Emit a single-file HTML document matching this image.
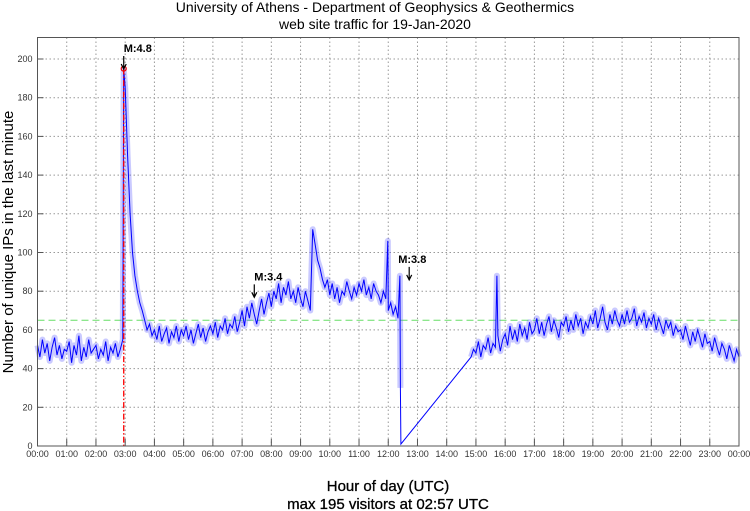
<!DOCTYPE html>
<html><head><meta charset="utf-8">
<style>
body{margin:0;background:#fff;}
svg{display:block;font-family:"Liberation Sans",sans-serif;}
</style></head>
<body>
<svg id="chart" width="750" height="511" viewBox="0 0 750 511">
<text x="375" y="12" text-anchor="middle" font-size="14">University of Athens - Department of Geophysics &amp; Geothermics</text>
<text x="375" y="29" text-anchor="middle" font-size="14">web site traffic for 19-Jan-2020</text>
<text transform="translate(13,242) rotate(-90)" text-anchor="middle" font-size="15">Number of unique IPs in the last minute</text>
<text x="388" y="491" text-anchor="middle" font-size="15" stroke="#000" stroke-width="0.3">Hour of day (UTC)</text>
<text x="388" y="509" text-anchor="middle" font-size="15" stroke="#000" stroke-width="0.3">max 195 visitors at 02:57 UTC</text>
<g id="grid"></g>
<g id="series"></g>
<g id="annot"></g>
<rect x="37.5" y="37.5" width="701.5" height="408.5" fill="none" stroke="#555" stroke-width="1"/>
</svg>
<script>
const yTicks=[0,20,40,60,80,100,120,140,160,180,200];
const xTickLabels=["00:00","01:00","02:00","03:00","04:00","05:00","06:00","07:00","08:00","09:00","10:00","11:00","12:00","13:00","14:00","15:00","16:00","17:00","18:00","19:00","20:00","21:00","22:00","23:00","00:00"];
const times=[0,5,10,15,20,25,30,35,40,45,50,55,
60,65,70,75,80,85,90,95,100,105,110,115,
120,125,130,135,140,145,150,155,160,165,170,175,177,
180,185,190,195,200,205,210,215,220,225,230,235,
240,245,250,255,260,265,270,275,280,285,290,295,
300,305,310,315,320,325,330,335,340,345,350,355,
360,365,370,375,380,385,390,395,400,405,410,415,
420,425,430,435,440,445,450,455,460,465,470,475,
480,485,490,495,500,505,510,515,520,525,530,535,
540,545,550,555,560,565,570,575,580,585,590,595,
600,605,610,615,620,625,630,635,640,645,650,655,
660,665,670,675,680,685,690,695,700,705,710,715,719,
720,725,730,735,740,744,745,746,
890,895,
900,905,910,915,920,925,930,935,940,943,945,950,955,
960,965,970,975,980,985,990,995,1000,1005,1010,1015,
1020,1025,1030,1035,1040,1045,1050,1055,1060,1065,1070,1075,
1080,1085,1090,1095,1100,1105,1110,1115,1120,1125,1130,1135,
1140,1145,1150,1155,1160,1165,1170,1175,1180,1185,1190,1195,
1200,1205,1210,1215,1220,1225,1230,1235,1240,1245,1250,1255,
1260,1265,1270,1275,1280,1285,1290,1295,1300,1305,1310,1315,
1320,1325,1330,1335,1340,1345,1350,1355,1360,1365,1370,1375,
1380,1385,1390,1395,1400,1405,1410,1415,1420,1425,1430,1435,1440];
const visitors=[52,46,55,48,53,44,51,56,47,52,45,50,
49,54,43,52,47,57,44,51,46,55,48,50,
52,45,50,47,54,44,51,48,53,46,50,55,195,
185,150,120,100,88,80,74,70,65,60,63,57,
60,55,62,54,58,61,53,59,56,62,54,60,
57,62,55,60,53,58,63,56,61,54,59,62,
58,64,56,62,60,66,58,63,61,67,59,64,
70,62,72,66,74,68,63,70,76,68,74,79,
72,80,76,84,74,82,78,85,76,80,74,82,
76,72,80,75,70,112,104,96,92,86,82,86,
78,84,76,82,74,80,78,85,80,76,82,78,
84,80,86,78,82,76,84,80,78,74,80,76,106,
70,74,68,72,66,88,30,1,
46,50,
48,54,46,52,50,56,48,53,51,88,57,49,55,
58,52,62,55,60,54,63,57,61,55,64,58,
60,66,58,64,57,63,67,59,65,61,56,64,
62,67,59,65,60,68,62,66,58,64,61,67,
63,70,61,66,72,64,60,68,63,70,65,62,
68,63,70,64,66,71,62,67,64,69,61,66,
63,68,60,66,62,58,65,61,64,57,62,59,
60,55,62,57,52,59,54,60,56,51,58,53,
54,49,56,51,47,53,50,45,52,48,44,50,46];
const meanLevel=[65];
const quakeLabels=["M:4.8","M:3.4","M:3.8"];
const quakeTimes=[177,445,763];
const quakeLabelY=[200,82,91];

const X0=37.5,X1=739,Y0=446,PXY=1.935;
const xs=t=>X0+(X1-X0)*t/1440;
const ys=v=>Y0-v*PXY;
const NS="http://www.w3.org/2000/svg";
function mk(tag,attrs,parent){const e=document.createElementNS(NS,tag);for(const k in attrs)e.setAttribute(k,attrs[k]);parent.appendChild(e);return e;}
const grid=document.getElementById('grid'),ser=document.getElementById('series'),an=document.getElementById('annot');

yTicks.forEach((v,i)=>{
  const y=ys(v);
  if(v>0){const g=mk('line',{x1:X0,x2:X1,y1:y,y2:y,stroke:'#999','stroke-dasharray':'1.5,2.5','stroke-width':1},grid);
  
  }
  const tk=mk('line',{x1:X0,x2:X0+6,y1:y,y2:y,stroke:'#555'},grid);
  
  
  const t=mk('text',{x:X0-5,y:y+3,'text-anchor':'end','font-size':9,fill:'#333'},grid);t.textContent=v;
  
  
});
xTickLabels.forEach((lab,i)=>{
  const x=xs(i*60);
  if(i>0&&i<24){const g=mk('line',{x1:x,x2:x,y1:37.5,y2:Y0,stroke:'#999','stroke-dasharray':'1.5,2.5','stroke-width':1},grid);
  
  }
  const tk=mk('line',{x1:x,x2:x,y1:Y0,y2:Y0-7,stroke:'#555'},grid);
  
  
  const t=mk('text',{x:x,y:457,'text-anchor':'middle','font-size':9,fill:'#333'},grid);t.textContent=lab;
  
  
});
const ml=mk('line',{x1:X0,x2:X1,y1:ys(meanLevel[0]),y2:ys(meanLevel[0]),stroke:'#6d6','stroke-dasharray':'7,4','stroke-width':1},ser);


let d='',bd='';
times.forEach((t,i)=>{
  const pt=xs(t).toFixed(1)+','+ys(visitors[i]).toFixed(1);
  d+=(i?'L':'M')+pt;
  const gap=i>0&&(t-times[i-1]>30||visitors[i]<5||visitors[i-1]<5);
  bd+=(i===0||gap?'M':'L')+pt;
});
const p2=mk('path',{d:bd,fill:'none',stroke:'rgba(80,80,255,0.3)','stroke-width':6,'stroke-linejoin':'round'},ser);


const p=mk('path',{d:d,fill:'none',stroke:'#00f','stroke-width':1},ser);


const mi=times.indexOf(177);
const vx=xs(177);
const vl=mk('line',{x1:vx,x2:vx,y1:ys(visitors[mi]),y2:Y0,stroke:'#f00','stroke-dasharray':'6,2,1.5,2','stroke-width':1.3},an);


const c=mk('circle',{cx:vx,cy:ys(visitors[mi]),r:2.5,fill:'none',stroke:'#e00','stroke-width':1.2},an);


quakeLabels.forEach((lab,i)=>{
  const x=xs(quakeTimes[i]),yT=ys(quakeLabelY[i]);
  const t=mk('text',{x:i===2?x-11:x,y:yT-7,'font-size':11,'font-weight':'bold'},an);t.textContent=lab;
  
  
  const a=mk('path',{d:`M${x},${yT-3}V${yT+10}M${x-2.5},${yT+5}L${x},${yT+10}L${x+2.5},${yT+5}`,fill:'none',stroke:'#000','stroke-width':1.2},an);
  
  
});
</script>
</body></html>
